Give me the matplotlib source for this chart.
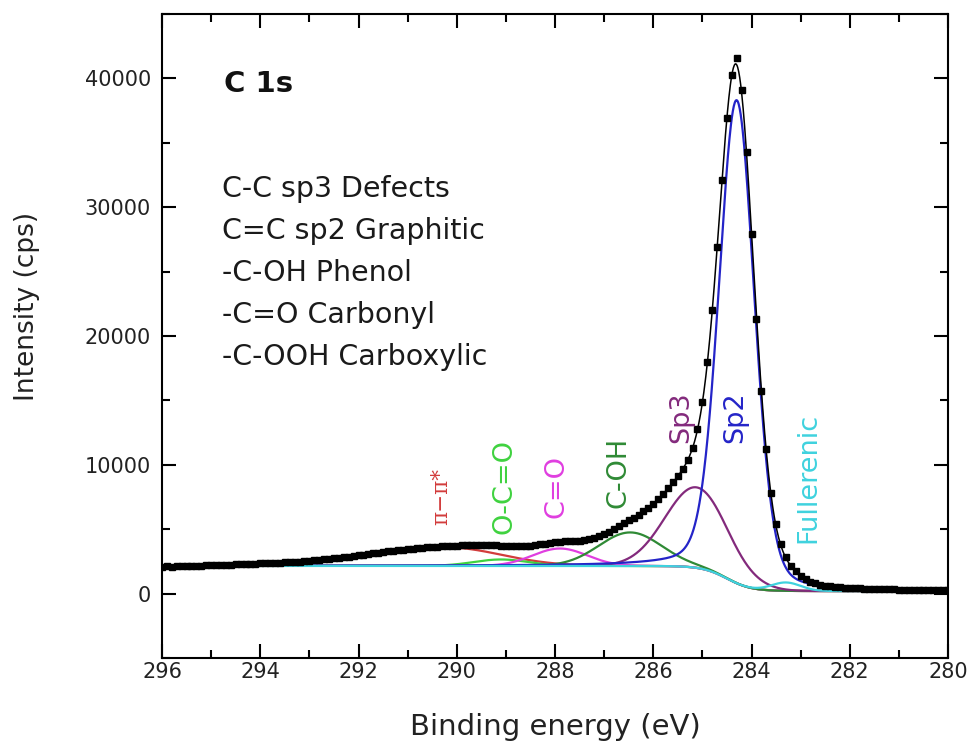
import numpy as np
import matplotlib
matplotlib.use("Agg")
import matplotlib.pyplot as plt
from matplotlib.ticker import MultipleLocator

# ---- measured C 1s spectrum: 296.0 eV down to 280.0 eV in 0.1 eV steps ----
start_ev = 296.0
step_ev = 0.1
counts = [
    2090, 2110, 2100, 2130, 2120, 2150, 2160, 2150, 2180, 2200,
    2190, 2220, 2230, 2250, 2240, 2270, 2290, 2280, 2310, 2330,
    2340, 2360, 2370, 2390, 2400, 2430, 2440, 2470, 2490, 2520,
    2550, 2580, 2620, 2650, 2690, 2740, 2780, 2830, 2870, 2920,
    2970, 3030, 3080, 3130, 3190, 3240, 3290, 3340, 3380, 3420,
    3460, 3500, 3530, 3560, 3590, 3610, 3640, 3660, 3680, 3700,
    3720, 3740, 3750, 3770, 3770, 3780, 3770, 3760, 3740, 3710,
    3690, 3670, 3660, 3660, 3680, 3710, 3760, 3820, 3880, 3940,
    3990, 4030, 4050, 4070, 4090, 4120, 4160, 4230, 4340, 4470,
    4640, 4820, 5030, 5240, 5460, 5680, 5900, 6130, 6380, 6670,
    6980, 7340, 7740, 8170, 8640, 9130, 9690, 10380, 11340, 12760,
    14880, 17950, 22050, 26900, 32150, 36900, 40260, 41600, 39100, 34300,
    27900, 21300, 15700, 11200, 7800, 5400, 3850, 2820, 2180, 1740,
    1400, 1140, 930, 790, 680, 610, 560, 520, 490, 460,
    440, 420, 400, 390, 370, 360, 350, 340, 330, 320,
    310, 300, 300, 290, 290, 280, 280, 270, 270, 260,
    260,
]

# ---- fitted components (centre / height / FWHM on high- and low-BE side / Lorentz share) ----
peak_names = ["π−π*", "O-C=O", "C=O", "C-OH", "Sp3", "Sp2", "Fullerenic"]
peak_centers = [290.2, 289.1, 287.9, 286.47, 285.12, 284.30, 283.3]
peak_heights = [1430, 500, 1350, 2600, 6250, 37500, 650]
peak_fwhm_hi = [4.0, 1.3, 1.3, 1.5, 1.5, 0.85, 0.7]
peak_fwhm_lo = [2.6, 1.3, 1.3, 1.5, 1.5, 0.85, 0.7]
peak_lorentz = [0.0, 0.0, 0.0, 0.0, 0.0, 0.2, 0.0]
peak_colors = ["#d23c3c", "#3fd23f", "#e03ee0", "#2f8a35", "#832a7c", "#2424c8", "#3fd2de"]

# label anchor points (energy, intensity)
label_ev = [290.32, 289.02, 287.96, 286.70, 285.43, 284.34, 282.85]
label_cps = [7550, 8330, 8330, 9420, 13700, 13700, 8950]

# step background (Shirley-like)
bg_low, bg_high, bg_step_ev, bg_step_width = 200, 2150, 284.5, 0.25

summary_lines = ["C-C sp3 Defects", "C=C sp2 Graphitic", "-C-OH Phenol",
                 "-C=O Carbonyl", "-C-OOH Carboxylic"]

x_ticks = [296, 294, 292, 290, 288, 286, 284, 282, 280]
y_ticks = [0, 10000, 20000, 30000, 40000]


def background(e):
    return bg_low + (bg_high - bg_low) / (1.0 + np.exp(-(e - bg_step_ev) / bg_step_width))


def component(e, c, h, w_hi, w_lo, eta):
    w = np.where(e >= c, w_hi, w_lo)
    u = ((e - c) / w) ** 2
    return h * ((1 - eta) * np.exp(-4 * np.log(2) * u) + eta / (1 + 4 * u))


energy = start_ev - step_ev * np.arange(len(counts))
fine = np.linspace(296, 280, 1601)
base = background(fine)

fig = plt.figure(figsize=(9.68, 7.47), dpi=100)
ax = fig.add_axes([0.16736, 0.11914, 0.81198, 0.86212])

envelope = base.copy()
for c, h, whi, wlo, eta, col in zip(peak_centers, peak_heights, peak_fwhm_hi,
                                    peak_fwhm_lo, peak_lorentz, peak_colors):
    comp = component(fine, c, h, whi, wlo, eta)
    envelope += comp
    ax.plot(fine, base + comp, color=col, lw=1.6, zorder=2)

ax.plot(energy, counts, ls="none", marker="s", ms=4.3, color="black", zorder=4)
ax.plot(fine, envelope, color="black", lw=1.1, zorder=5)

# peak labels (rotated)
for name, le, lc, col in zip(peak_names, label_ev, label_cps, peak_colors):
    if name.startswith("π"):
        ax.text(le, lc, name, rotation=90, ha="center", va="center", color=col,
                fontsize=15.5, family="DejaVu Serif", zorder=6)
    else:
        ax.text(le, lc, name, rotation=90, ha="center", va="center", color=col,
                fontsize=19.5, zorder=6)

ax.text(0.079, 0.879, "C 1s", transform=ax.transAxes, fontsize=21,
        fontweight="bold", color="#111111", va="baseline", ha="left")
for i, line in enumerate(summary_lines):
    ax.text(0.076, 0.7158 - i * 0.0652, line, transform=ax.transAxes,
            fontsize=20.5, color="#1a1a1a", va="baseline", ha="left")

ax.set_xlim(296, 280)
ax.set_ylim(-5000, 45000)
ax.set_xticks(x_ticks)
ax.set_yticks(y_ticks)
ax.xaxis.set_minor_locator(MultipleLocator(1))
ax.yaxis.set_minor_locator(MultipleLocator(5000))
ax.tick_params(which="both", direction="in", top=True, right=True,
               width=1.5, colors="black", labelcolor="#222222", labelsize=15)
ax.tick_params(which="major", length=10)
ax.tick_params(which="minor", length=5.5)
ax.tick_params(axis="y", pad=8)
ax.tick_params(axis="x", pad=3)
for s in ax.spines.values():
    s.set_linewidth(1.5)

fig.text(0.5733, 0.027, "Binding energy (eV)", ha="center", va="center",
         fontsize=21, color="#222222")
fig.text(0.028, 0.5904, "Intensity (cps)", ha="center", va="center",
         rotation=90, fontsize=19, color="#222222")

fig.savefig("out.png", dpi=100)
